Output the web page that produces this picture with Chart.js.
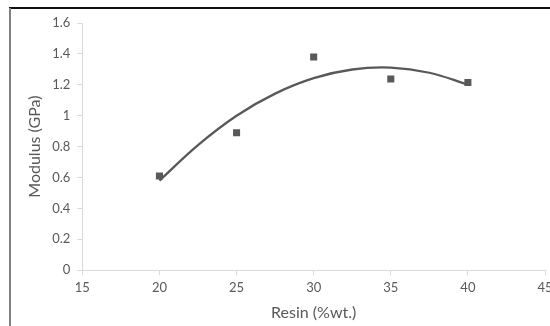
<!DOCTYPE html>
<html>
<head>
<meta charset="utf-8">
<script src="https://cdn.jsdelivr.net/npm/chart.js@4/dist/chart.umd.min.js"></script>
<style>
  html, body { margin: 0; padding: 0; background: #fff; overflow: hidden; }
  #wrap { position: relative; width: 550px; height: 326px; overflow: hidden; }
  #box { position: absolute; left: 0; top: 0; width: 560px; height: 326px; }
  .edgeTop { position: absolute; left: 9px; top: 7px; width: 545px; height: 2px; background: #111; }
  .edgeLeft { position: absolute; left: 9px; top: 8px; width: 2px; height: 320px; background: #808080; }
</style>
</head>
<body>
<div id="wrap">
  <div id="box"><canvas id="myChart" width="560" height="326"></canvas></div>
  <div class="edgeTop"></div>
  <div class="edgeLeft"></div>
</div>
<script>
// measured points
const resin = [20, 25, 30, 35, 40];
const modulus = [0.61, 0.89, 1.38, 1.238, 1.215];

// trendline
const trendResin = [20, 22.5, 25, 27.5, 30, 32.5, 35, 37.5, 40];
const trendModulus = [0.58, 0.81, 1.0, 1.143, 1.243, 1.299, 1.311, 1.278, 1.201];

// axis ticks
const xTicks = [15, 20, 25, 30, 35, 40, 45];
const yTicks = [0, 0.2, 0.4, 0.6, 0.8, 1, 1.2, 1.4, 1.6];

const grey = '#595959';
const axisGrey = '#d9d9d9';

var ctx = document.getElementById('myChart').getContext('2d');
var myChart = new Chart(ctx, {
	type: 'scatter',
	data: {
		datasets: [{
			label: 'Modulus',
			data: resin.map((x, i) => ({ x: x, y: modulus[i] })),
			pointStyle: 'rect',
			pointRadius: 5,
			pointBorderWidth: 0,
			backgroundColor: grey,
			borderColor: grey
		}, {
			label: 'Trend',
			data: trendResin.map((x, i) => ({ x: x, y: trendModulus[i] })),
			showLine: true,
			pointRadius: 0,
			borderColor: grey,
			borderWidth: 2.3,
			tension: 0.4
		}]
	},
	options: {
		responsive: false,
		animation: false,
		devicePixelRatio: 1,
		layout: { padding: { top: 23, right: 15, bottom: 4, left: 25 } },
		plugins: {
			legend: { display: false },
			tooltip: { enabled: false }
		},
		scales: {
			x: {
				type: 'linear',
				min: xTicks[0],
				max: xTicks[xTicks.length - 1],
				afterBuildTicks: axis => { axis.ticks = xTicks.map(v => ({ value: v })); },
				border: { color: axisGrey, width: 1 },
				grid: { drawOnChartArea: false, color: axisGrey, tickLength: 5 },
				ticks: { color: grey, font: { family: 'Lato', size: 13 }, padding: 5, maxRotation: 0 },
				title: { display: true, text: 'Resin (%wt.)', color: grey, font: { family: 'Lato', size: 16 }, padding: { top: 2, bottom: 0 } }
			},
			y: {
				min: yTicks[0],
				max: yTicks[yTicks.length - 1],
				afterBuildTicks: axis => { axis.ticks = yTicks.map(v => ({ value: v })); },
				border: { color: axisGrey, width: 1 },
				grid: { drawOnChartArea: false, color: axisGrey, tickLength: 5 },
				ticks: {
					color: grey, font: { family: 'Lato', size: 13 }, padding: 7,
					callback: v => String(Number(v.toFixed(1)))
				},
				title: { display: true, text: 'Modulus (GPa)', color: grey, font: { family: 'Lato', size: 16 }, padding: { top: 0, bottom: 1 } }
			}
		}
	}
});
</script>
</body>
</html>
